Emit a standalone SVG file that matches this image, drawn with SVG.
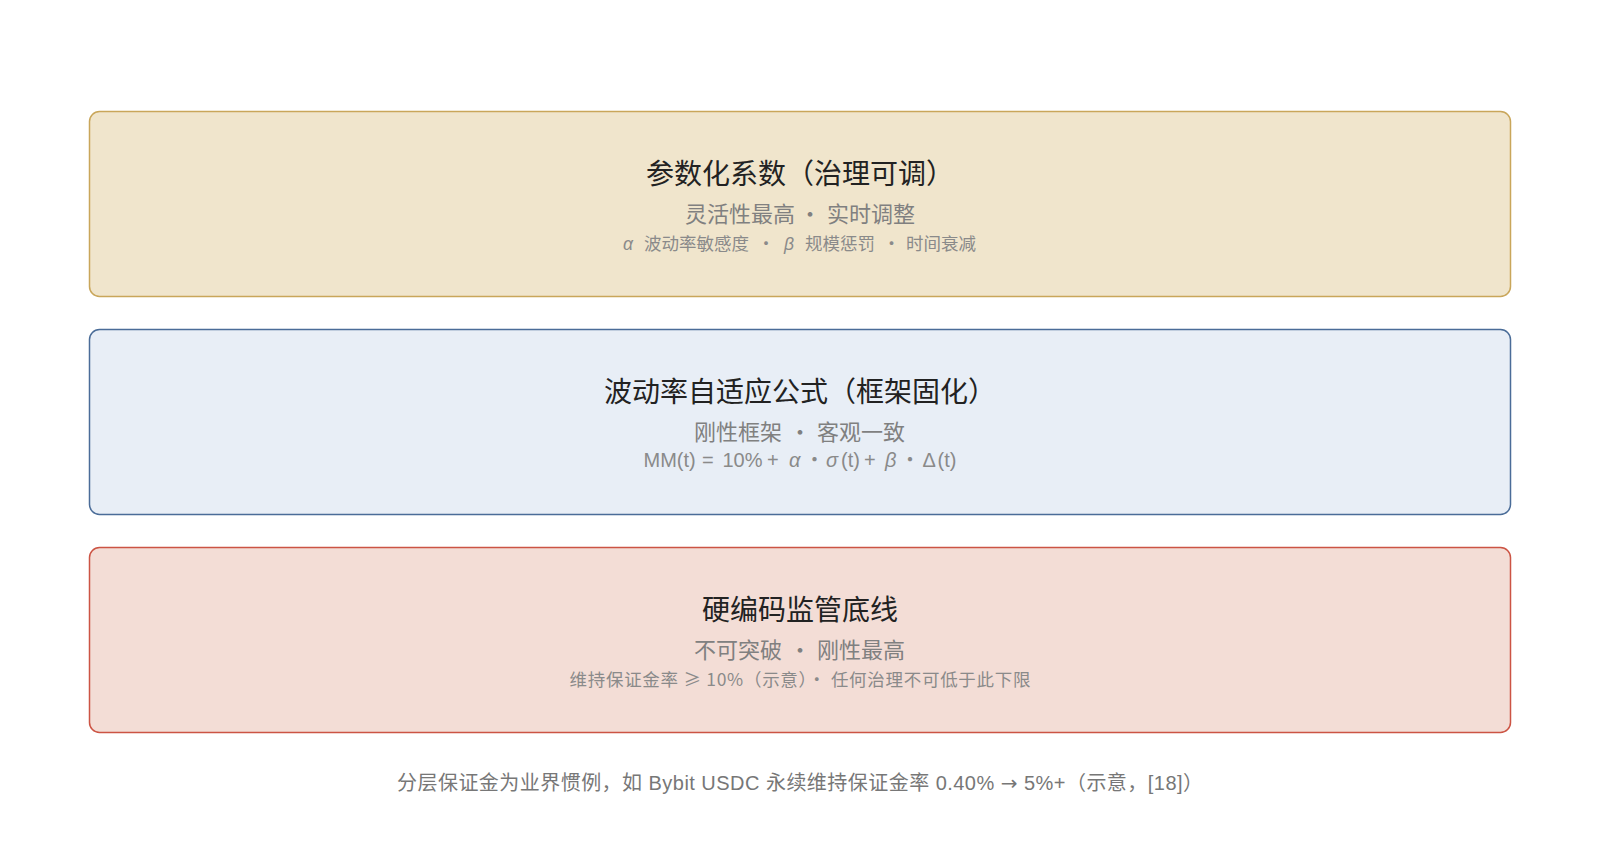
<svg xmlns="http://www.w3.org/2000/svg" width="1600" height="853" viewBox="0 0 1600 853">
<style>
text{font-family:"Noto Sans CJK SC","Noto Sans",sans-serif}
.t{font-size:28px;fill:#222222;text-anchor:middle}
.s{font-size:22px;fill:#808080}
.d{font-size:17.5px;fill:#8a8a8a}
.fx{font-size:20px;fill:#8a8a8a;font-family:"Liberation Sans","Noto Sans CJK SC",sans-serif}
.m{text-anchor:middle}
.f{font-size:20px;fill:#777777;text-anchor:middle}
.l{font-family:"Liberation Sans","Noto Sans CJK SC",sans-serif}
.c{font-family:"Noto Sans CJK SC",sans-serif}
.g{font-family:"Liberation Sans","Noto Sans CJK SC",sans-serif;font-style:italic}
.a{font-family:"DejaVu Sans",sans-serif}
.box{stroke-width:1.5}
</style>
<rect width="1600" height="853" fill="#ffffff"/>
<g id="layer-param">
<rect class="box" x="89.5" y="111.5" width="1421" height="185" rx="10" fill="#f0e5cc" stroke="#c9a65a"/>
<text class="t" x="800" y="183.5">参数化系数（治理可调）</text>
<text class="s" y="221.5"><tspan x="685">灵活性最高</tspan><tspan class="c" x="799">·</tspan><tspan x="827">实时调整</tspan></text>
<text class="d" y="249.5"><tspan class="g" x="623">α</tspan><tspan x="644">波动率敏感度</tspan><tspan class="c" x="757.3">·</tspan><tspan class="g" x="784">β</tspan><tspan x="805">规模惩罚</tspan><tspan class="c" x="882.8">·</tspan><tspan x="906">时间衰减</tspan></text>
</g>
<g id="layer-formula">
<rect class="box" x="89.5" y="329.5" width="1421" height="185" rx="10" fill="#e8eef6" stroke="#4a6c98"/>
<text class="t" x="800" y="401.5">波动率自适应公式（框架固化）</text>
<text class="s" y="439.5"><tspan x="694">刚性框架</tspan><tspan class="c" x="789">·</tspan><tspan x="817">客观一致</tspan></text>
<text class="fx" y="467"><tspan x="643.5">MM(t)</tspan><tspan x="702">=</tspan><tspan x="722.5">10%</tspan><tspan x="767">+</tspan><tspan class="g" x="789">α</tspan><tspan class="c" x="804.5">·</tspan><tspan class="g" x="826">σ</tspan><tspan x="841">(t)</tspan><tspan x="864">+</tspan><tspan class="g" x="885">β</tspan><tspan class="c" x="900">·</tspan><tspan x="922.5">Δ</tspan><tspan x="937.5">(t)</tspan></text>
</g>
<g id="layer-floor">
<rect class="box" x="89.5" y="547.5" width="1421" height="185" rx="10" fill="#f3ddd6" stroke="#cc5444"/>
<text class="t" x="800" y="619.5">硬编码监管底线</text>
<text class="s" y="657.5"><tspan x="694">不可突破</tspan><tspan class="c" x="789">·</tspan><tspan x="817">刚性最高</tspan></text>
<text class="d m" x="800" y="685.5" textLength="461" lengthAdjust="spacing">维持保证金率 ≥ 10%（示意）· 任何治理不可低于此下限</text>
</g>
<g id="connectors"></g>
<text class="f l" x="800" y="790" textLength="806" lengthAdjust="spacing">分层保证金为业界惯例，如 Bybit USDC 永续维持保证金率 0.40% <tspan class="a">→</tspan> 5%+（示意，[18]）</text>
</svg>
